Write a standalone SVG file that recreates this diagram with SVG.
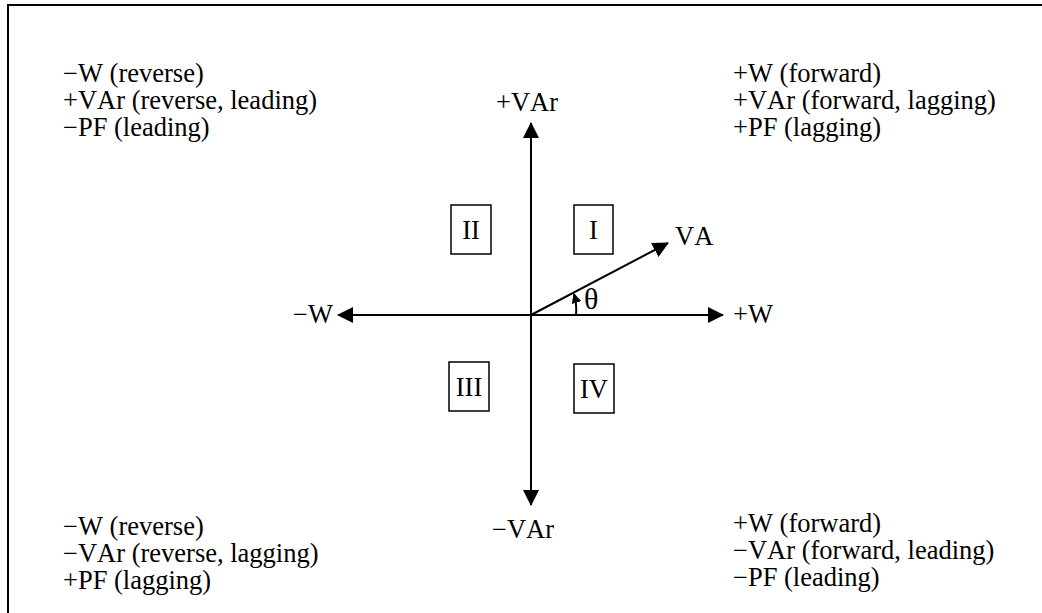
<svg xmlns="http://www.w3.org/2000/svg" width="1042" height="613" viewBox="0 0 1042 613">
<style>
text{font-family:"Liberation Serif","Times New Roman",serif;font-size:26.5px;fill:#000;font-kerning:none}
.ax{stroke:#000;stroke-width:2;fill:none}
.box{stroke:#000;stroke-width:1.5;fill:#fff}
.mid{text-anchor:middle}
</style>
<defs>
<marker id="ah" viewBox="0 0 16 16" refX="15" refY="8" markerWidth="16" markerHeight="16" markerUnits="userSpaceOnUse" orient="auto">
<path d="M0,0 L16,8 L0,16 Z" fill="#000"/>
</marker>
<marker id="ahs" viewBox="0 0 10 10" refX="9" refY="5" markerWidth="10" markerHeight="10" markerUnits="userSpaceOnUse" orient="auto">
<path d="M0,0 L10,5 L0,10 Z" fill="#000"/>
</marker>
</defs>
<rect x="8" y="5" width="1200" height="800" fill="#fff" stroke="#000" stroke-width="2"/>
<g id="connectors">
<line class="ax" x1="531" y1="315" x2="531" y2="123" marker-end="url(#ah)"/>
<line class="ax" x1="531" y1="315" x2="531" y2="505" marker-end="url(#ah)"/>
<line class="ax" x1="531" y1="315" x2="723" y2="315" marker-end="url(#ah)"/>
<line class="ax" x1="531" y1="315" x2="338" y2="315" marker-end="url(#ah)"/>
<line class="ax" x1="531" y1="315" x2="668" y2="243" marker-end="url(#ah)"/>
<path class="ax" d="M576,315 Q577,304 574,294" marker-end="url(#ahs)"/>
</g>
<g id="q1"><rect class="box" x="574" y="205" width="39" height="49"/><text class="mid" x="593.5" y="239">I</text></g>
<g id="q2"><rect class="box" x="451" y="205" width="40" height="49"/><text class="mid" x="471" y="239">II</text></g>
<g id="q3"><rect class="box" x="449" y="362" width="40" height="49"/><text class="mid" x="469" y="396">III</text></g>
<g id="q4"><rect class="box" x="574" y="364" width="40" height="49"/><text class="mid" x="594" y="398">IV</text></g>
<g id="labels">
<text class="mid" x="527" y="111">+VAr</text>
<text class="mid" x="523" y="538">−VAr</text>
<text x="293" y="323">−W</text>
<text x="733" y="323">+W</text>
<text x="675" y="245">VA</text>
<text x="584" y="309" style="font-size:30px">θ</text>
</g>
<g id="tl">
<text x="63" y="82">−W (reverse)</text>
<text x="63" y="109">+VAr (reverse, leading)</text>
<text x="63" y="136">−PF (leading)</text>
</g>
<g id="tr">
<text x="733" y="82">+W (forward)</text>
<text x="733" y="109">+VAr (forward, lagging)</text>
<text x="733" y="136">+PF (lagging)</text>
</g>
<g id="bl">
<text x="63" y="535">−W (reverse)</text>
<text x="63" y="562">−VAr (reverse, lagging)</text>
<text x="63" y="589">+PF (lagging)</text>
</g>
<g id="br">
<text x="733" y="532">+W (forward)</text>
<text x="733" y="559">−VAr (forward, leading)</text>
<text x="733" y="586">−PF (leading)</text>
</g>
</svg>
